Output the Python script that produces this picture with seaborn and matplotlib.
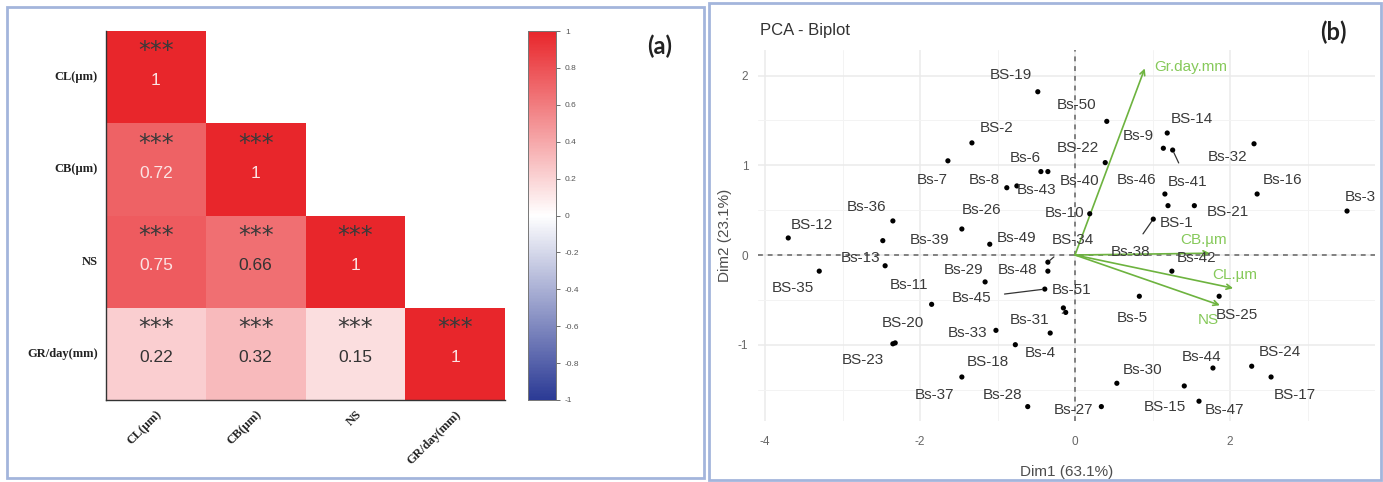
import numpy as np
import pandas as pd
import matplotlib
matplotlib.use("Agg")
import matplotlib.pyplot as plt
import seaborn as sns
from matplotlib.colors import LinearSegmentedColormap
from matplotlib.patches import Rectangle

# ---------------- data ----------------
traits = ["CL(µm)", "CB(µm)", "NS", "GR/day(mm)"]
corr_CL = [1.00, 0.72, 0.75, 0.22]
corr_CB = [0.72, 1.00, 0.66, 0.32]
corr_NS = [0.75, 0.66, 1.00, 0.15]
corr_GR = [0.22, 0.32, 0.15, 1.00]
signif = "***"
cbar_ticks = [1, 0.8, 0.6, 0.4, 0.2, 0, -0.2, -0.4, -0.6, -0.8, -1]

genotypes = ["BS-19", "Bs-50", "BS-2", "BS-22", "Bs-6", "Bs-9", "BS-14", "Bs-32", "Bs-7", "Bs-8",
             "Bs-43", "Bs-40", "Bs-46", "Bs-41", "Bs-16", "Bs-3", "Bs-36", "Bs-26", "Bs-10", "BS-21",
             "BS-12", "Bs-39", "Bs-49", "BS-34", "BS-1", "Bs-13", "Bs-29", "Bs-48", "Bs-38", "Bs-42",
             "BS-35", "Bs-11", "Bs-45", "Bs-51", "Bs-5", "BS-25", "BS-20", "Bs-31", "Bs-33", "Bs-4",
             "BS-23", "BS-18", "Bs-44", "BS-24", "Bs-30", "BS-17", "Bs-37", "Bs-28", "Bs-27", "BS-15",
             "Bs-47"]
dim1 = [-0.48, 0.41, -1.33, 0.39, -0.44, 1.14, 1.19, 2.31, -1.64, -0.88,
        -0.75, -0.35, 1.16, 1.26, 2.35, 3.51, -2.35, -1.46, 0.19, 1.54,
        -3.70, -2.48, -1.10, -0.35, 1.20, -2.45, -1.16, -0.35, 1.01, 1.25,
        -3.30, -1.85, -0.39, -0.15, 0.83, 1.86, -2.32, -0.12, -1.02, -0.32,
        -2.35, -0.77, 1.78, 2.28, 0.54, 2.53, -1.46, -0.61, 0.34, 1.41,
        1.60]
dim2 = [1.82, 1.49, 1.25, 1.03, 0.93, 1.19, 1.36, 1.24, 1.05, 0.75,
        0.77, 0.93, 0.68, 1.17, 0.68, 0.49, 0.38, 0.29, 0.46, 0.55,
        0.19, 0.16, 0.12, -0.08, 0.55, -0.12, -0.30, -0.18, 0.40, -0.18,
        -0.18, -0.55, -0.38, -0.59, -0.46, -0.46, -0.98, -0.64, -0.84, -0.87,
        -0.99, -1.00, -1.26, -1.24, -1.43, -1.36, -1.36, -1.69, -1.69, -1.46,
        -1.63]

var_names = ["Gr.day.mm", "CB.µm", "CL.µm", "NS"]
var_dim1 = [0.90, 1.74, 2.04, 1.87]
var_dim2 = [2.08, 0.02, -0.37, -0.56]

x_label = "Dim1 (63.1%)"
y_label = "Dim2 (23.1%)"
title_b = "PCA - Biplot"

# ---------------- layout / style (pixel offsets of labels) ----------------
lab_off = {
    "BS-19": (-27, 17), "Bs-50": (-30, 16), "BS-2": (25, 15), "BS-22": (-27, 15), "Bs-6": (-16, 14),
    "Bs-9": (-25, 12), "BS-14": (25, 14), "Bs-32": (-26, -13), "Bs-7": (-16, -19), "Bs-8": (-22, 8),
    "Bs-43": (20, -4), "Bs-40": (32, -9), "Bs-46": (-28, 14), "Bs-41": (15, -32), "Bs-16": (25, 14),
    "Bs-3": (13, 14), "Bs-36": (-26, 14), "Bs-26": (20, 19), "Bs-10": (-25, 1), "BS-21": (34, -6),
    "BS-12": (24, 13), "Bs-39": (47, 1), "Bs-49": (27, 6), "BS-34": (25, 22), "BS-1": (9, -17),
    "Bs-13": (-25, 8), "Bs-29": (-22, 12), "Bs-48": (-30, 1), "Bs-38": (-23, -33), "Bs-42": (25, 13),
    "BS-35": (-26, -17), "Bs-11": (-23, 19), "Bs-45": (-73, -9), "Bs-51": (8, 18), "Bs-5": (-7, -22),
    "BS-25": (18, -19), "BS-20": (8, 20), "Bs-31": (-36, -8), "Bs-33": (-28, -3), "Bs-4": (-10, -20),
    "BS-23": (-30, -16), "BS-18": (-27, -17), "Bs-44": (-11, 11), "BS-24": (28, 14), "Bs-30": (26, 13),
    "BS-17": (24, -18), "Bs-37": (-27, -18), "Bs-28": (-25, 12), "Bs-27": (-28, -3), "BS-15": (-19, -21),
    "Bs-47": (26, -9),
}
with_line = {"Bs-41", "BS-34", "Bs-38", "Bs-45", "Bs-31"}
var_off = {"Gr.day.mm": (46, 1), "CB.µm": (-6, 13), "CL.µm": (2, 13), "NS": (-12, -15)}

W, H = 1383, 482
sns.set_theme(style="white")
plt.rcParams["font.family"] = ["Liberation Sans", "DejaVu Sans"]
plt.rcParams["axes.unicode_minus"] = False

fig = plt.figure(figsize=(W / 100, H / 100), dpi=100)
fig.patch.set_facecolor("white")


def px_axes(l, t, r, b):
    return fig.add_axes([l / W, 1 - b / H, (r - l) / W, (b - t) / H])


# panel borders
border_col = "#a3b5dc"
fig.add_artist(Rectangle((7 / W, 1 - 478 / H), (704 - 7) / W, (478 - 7) / H, fill=False,
                         ec=border_col, lw=2, transform=fig.transFigure))
fig.add_artist(Rectangle((709 / W, 1 - 480 / H), (1381 - 709) / W, (480 - 3) / H, fill=False,
                         ec=border_col, lw=2, transform=fig.transFigure))

# ---------------- (a) correlation heatmap ----------------
corr = pd.DataFrame([corr_CL, corr_CB, corr_NS, corr_GR], index=traits, columns=traits)
mask = np.triu(np.ones_like(corr.values, dtype=bool), k=1)
cmap = LinearSegmentedColormap.from_list("bwr_c", ["#2b3a95", "#ffffff", "#e8262b"])

ax1 = px_axes(106, 31, 505, 400)
cax = px_axes(528, 31, 556, 400)
sns.heatmap(corr, mask=mask, cmap=cmap, vmin=-1, vmax=1, ax=ax1, cbar_ax=cax,
            linewidths=0, square=False, cbar_kws={"ticks": cbar_ticks})

n = len(traits)
for i in range(n):
    for j in range(n):
        if mask[i, j]:
            continue
        v = corr.values[i, j]
        tc = "#fbe3e3" if v >= 0.7 else "#333333"
        ax1.text(j + 0.5, i + 0.54, f"{v:g}", ha="center", va="center", fontsize=12.5, color=tc)
        ax1.text(j + 0.5, i + 0.22, signif, ha="center", va="center", fontsize=17,
                 color="#3a3a3a", fontfamily="DejaVu Sans")

ax1.set_xlabel("")
ax1.set_ylabel("")
ax1.set_yticklabels(traits, rotation=0, fontsize=9, fontweight="bold",
                    fontfamily="Liberation Serif", color="#222222")
ax1.set_xticklabels(traits, rotation=45, ha="right", rotation_mode="anchor", fontsize=9,
                    fontweight="bold", fontfamily="Liberation Serif", color="#222222")
ax1.tick_params(length=0, pad=6)
for s in ["left", "bottom"]:
    ax1.spines[s].set_visible(True)
    ax1.spines[s].set_color("#333333")
    ax1.spines[s].set_linewidth(1.0)

cax.tick_params(labelsize=6, colors="#555555", length=3, width=0.6)
cax.set_yticklabels([f"{t:g}" for t in cbar_ticks])
for s in cax.spines.values():
    s.set_visible(True)
    s.set_color("#777777")
    s.set_linewidth(0.6)

fig.text(660 / W, 1 - 46 / H, "(a)", ha="center", va="center", fontsize=17, fontweight="bold",
         color="#222222", fontfamily="Lato")

# ---------------- (b) PCA biplot ----------------
ax2 = px_axes(758, 50, 1375, 421)
x0p, y0p, ux, uy = 1075, 255, 77.5, 89.7
ax2.set_xlim((758 - x0p) / ux, (1375 - x0p) / ux)
ax2.set_ylim((y0p - 421) / uy, (y0p - 50) / uy)
ax2.set_xticks([-4, -2, 0, 2])
ax2.set_yticks([-1, 0, 1, 2])
ax2.set_xticks([-3, -1, 1, 3], minor=True)
ax2.set_yticks([-1.5, -0.5, 0.5, 1.5], minor=True)
ax2.grid(True, which="major", color="#ebebeb", lw=1.1)
ax2.grid(True, which="minor", color="#f3f3f3", lw=0.7)
ax2.set_axisbelow(True)
for s in ax2.spines.values():
    s.set_visible(False)
ax2.tick_params(which="major", length=4, width=0.8, color="#888888", labelsize=8.5,
                labelcolor="#666666", pad=3)
ax2.tick_params(axis="x", which="major", pad=7)
ax2.tick_params(which="minor", length=0)
ax2.axhline(0, color="#808080", lw=1.4, ls=(0, (2.5, 2.5)), zorder=1)
ax2.axvline(0, color="#808080", lw=1.4, ls=(0, (2.5, 2.5)), zorder=1)

pca = pd.DataFrame({"name": genotypes, "Dim1": dim1, "Dim2": dim2})
sns.scatterplot(data=pca, x="Dim1", y="Dim2", ax=ax2, color="black", s=14, edgecolor="none",
                zorder=3, legend=False)
for nm, xv, yv in zip(genotypes, dim1, dim2):
    dx, dy = lab_off[nm]
    kw = {}
    if nm in with_line:
        kw["arrowprops"] = dict(arrowstyle="-", color="#333333", lw=0.9, shrinkA=7, shrinkB=2)
    ax2.annotate(nm, xy=(xv, yv), xytext=(dx, dy), textcoords="offset pixels",
                 ha="center", va="center", fontsize=11, color="#3a3a3a", zorder=4, **kw)

green = "#6db33f"
for nm, xv, yv in zip(var_names, var_dim1, var_dim2):
    ax2.annotate("", xy=(xv, yv), xytext=(0, 0),
                 arrowprops=dict(arrowstyle="->", color=green, lw=1.2, mutation_scale=9,
                                 shrinkA=0, shrinkB=0), zorder=2)
    dx, dy = var_off[nm]
    ax2.annotate(nm, xy=(xv, yv), xytext=(dx, dy), textcoords="offset pixels",
                 ha="center", va="center", fontsize=11, color="#86c95a", zorder=4)

ax2.set_xlabel(x_label, fontsize=11, color="#4d4d4d", labelpad=12)
ax2.set_ylabel(y_label, fontsize=11, color="#4d4d4d", labelpad=4)
fig.text(760 / W, 1 - 30 / H, title_b, ha="left", va="center", fontsize=12, color="#333333")
fig.text(1333 / W, 1 - 32 / H, "(b)", ha="center", va="center", fontsize=17, fontweight="bold",
         color="#222222", fontfamily="Lato")

fig.savefig("out.png", dpi=100, facecolor="white")
